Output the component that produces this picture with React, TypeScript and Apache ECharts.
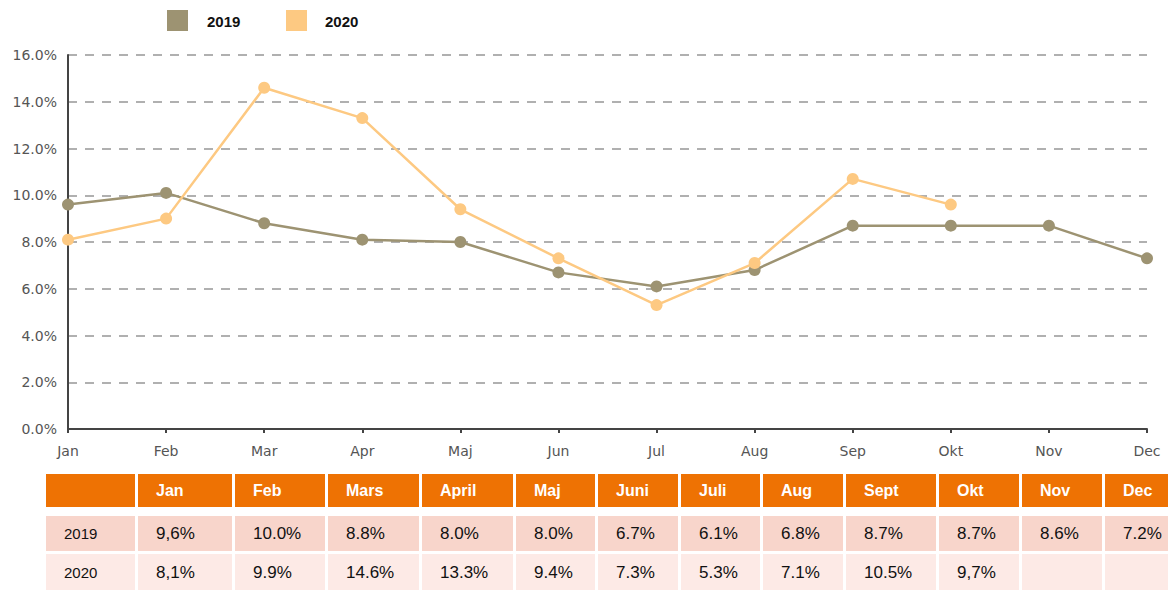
import React, { useEffect, useRef } from "react";
import * as echarts from "echarts";

const months = ["Jan", "Feb", "Mar", "Apr", "Maj", "Jun", "Jul", "Aug", "Sep", "Okt", "Nov", "Dec"];
const values2019 = [9.6, 10.1, 8.8, 8.1, 8.0, 6.7, 6.1, 6.8, 8.7, 8.7, 8.7, 7.3];
const values2020 = [8.1, 9.0, 14.6, 13.3, 9.4, 7.3, 5.3, 7.1, 10.7, 9.6];

const tableHeaders = ["", "Jan", "Feb", "Mars", "April", "Maj", "Juni", "Juli", "Aug", "Sept", "Okt", "Nov", "Dec"];
const table2019 = ["2019", "9,6%", "10.0%", "8.8%", "8.0%", "8.0%", "6.7%", "6.1%", "6.8%", "8.7%", "8.7%", "8.6%", "7.2%"];
const table2020 = ["2020", "8,1%", "9.9%", "14.6%", "13.3%", "9.4%", "7.3%", "5.3%", "7.1%", "10.5%", "9,7%", "", ""];

const C2019 = "#9d9372";
const C2020 = "#fdc982";

export default function App() {
  const ref = useRef<HTMLDivElement>(null);
  useEffect(() => {
    document.body.style.margin = "0";
    const chart = echarts.init(ref.current!, null, { renderer: "svg" });

    const colX = [46, 138, 235, 328, 422, 516, 598, 681, 763, 846, 939, 1022, 1105];
    const tableRight = 1168;
    const rows = [
      { y: 474, h: 33, fill: "#ee7203", cells: tableHeaders, color: "#fff", weight: "bold", size: 16 },
      { y: 516, h: 35, fill: "#f8d5cb", cells: table2019, color: "#111", weight: "normal", size: 17 },
      { y: 554, h: 36, fill: "#fdeae6", cells: table2020, color: "#111", weight: "normal", size: 17 },
    ];
    const tableEls: any[] = [];
    rows.forEach((r) => {
      colX.forEach((x, i) => {
        const next = i < colX.length - 1 ? colX[i + 1] - 3 : tableRight;
        tableEls.push({
          type: "rect",
          shape: { x, y: r.y, width: next - x, height: r.h },
          style: { fill: r.fill },
          silent: true,
        });
        const txt = r.cells[i];
        if (txt) {
          tableEls.push({
            type: "text",
            x: x + 18,
            y: r.y + r.h / 2,
            style: {
              text: txt,
              fill: r.color,
              font: `${r.weight} ${i === 0 ? 15 : r.size}px "Liberation Sans", Arial, sans-serif`,
              verticalAlign: "middle",
              align: "left",
            },
            silent: true,
          });
        }
      });
    });

    const legendEls = [
      { type: "rect", shape: { x: 167, y: 10, width: 21, height: 21 }, style: { fill: C2019 } },
      {
        type: "text",
        x: 207,
        y: 21,
        style: { text: "2019", fill: "#111", font: 'bold 15px "Liberation Sans", Arial, sans-serif', verticalAlign: "middle" },
      },
      { type: "rect", shape: { x: 286, y: 10, width: 21, height: 21 }, style: { fill: C2020 } },
      {
        type: "text",
        x: 325,
        y: 21,
        style: { text: "2020", fill: "#111", font: 'bold 15px "Liberation Sans", Arial, sans-serif', verticalAlign: "middle" },
      },
    ];

    chart.setOption({
      animation: false,
      grid: { left: 68, right: 27, top: 55, bottom: 161, containLabel: false },
      xAxis: {
        type: "category",
        data: months,
        boundaryGap: false,
        axisLine: { lineStyle: { color: "#444", width: 2 } },
        axisTick: { show: true, length: 4, lineStyle: { color: "#444", width: 2 } },
        axisLabel: { color: "#555", fontFamily: "DejaVu Sans", fontSize: 14, margin: 15 },
        splitLine: { show: false },
      },
      yAxis: {
        type: "value",
        min: 0,
        max: 16,
        interval: 2,
        axisLine: { show: true, lineStyle: { color: "#444", width: 2 } },
        axisTick: { show: false },
        axisLabel: {
          color: "#555",
          fontFamily: "DejaVu Sans",
          fontSize: 14,
          margin: 11,
          formatter: (v: number) => v.toFixed(1) + "%",
        },
        splitLine: { show: true, lineStyle: { color: "#b0b0b0", width: 2, type: [9, 8] } },
      },
      series: [
        {
          name: "2019",
          type: "line",
          data: values2019,
          symbol: "circle",
          symbolSize: 12,
          itemStyle: { color: C2019 },
          lineStyle: { color: C2019, width: 2.5 },
        },
        {
          name: "2020",
          type: "line",
          data: values2020,
          symbol: "circle",
          symbolSize: 12,
          itemStyle: { color: C2020 },
          lineStyle: { color: C2020, width: 2.5 },
        },
      ],
      graphic: [...legendEls, ...tableEls],
    });
    return () => chart.dispose();
  }, []);
  return <div ref={ref} style={{ position: "absolute", left: 0, top: 0, width: 1174, height: 590 }} />;
}
